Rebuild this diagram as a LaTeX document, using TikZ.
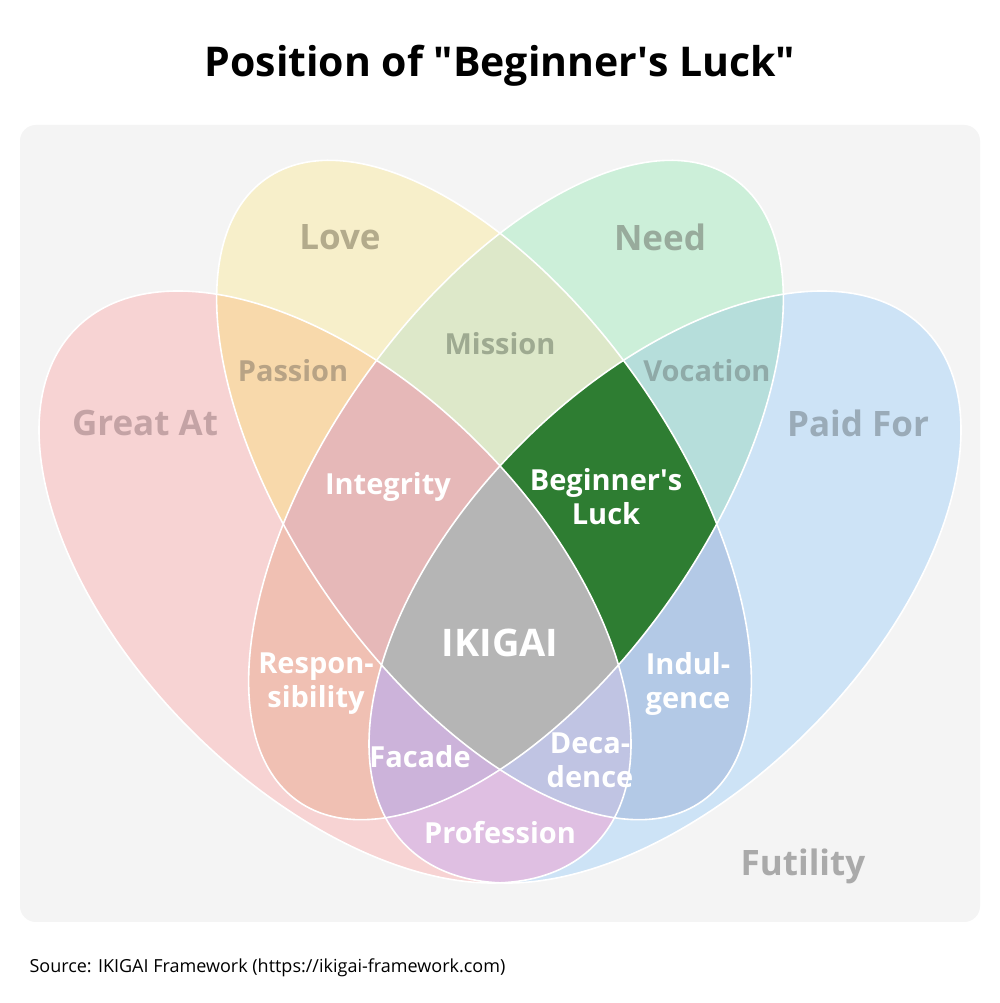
\documentclass[tikz,border=0pt]{standalone}
\usepackage{fontspec}
\setmainfont{Open Sans}[Ligatures=ResetAll]
\begin{document}
\begin{tikzpicture}[x=1pt,y=1pt,
  lab/.style={font=\bfseries\fontsize{29}{34}\selectfont,align=center,text=white},
  big/.style={font=\bfseries\fontsize{35}{40}\selectfont},
  mid/.style={font=\bfseries\fontsize{29}{32}\selectfont}]
\newcommand\clipG{\clip[rotate around={-45:(335,416)}] (335,416) ellipse [x radius=366pt, y radius=203pt];}
\newcommand\clipP{\clip[rotate around={45:(665,416)}] (665,416) ellipse [x radius=366pt, y radius=203pt];}
\newcommand\clipL{\clip[rotate around={-55:(484,513)}] (484,513) ellipse [x radius=380pt, y radius=189pt];}
\newcommand\clipN{\clip[rotate around={55:(516,513)}] (516,513) ellipse [x radius=380pt, y radius=189pt];}
\newcommand\fillrg[1]{\fill[#1] (0,0) rectangle (1000,1003);}
\newcommand\sq{\XeTeXglyph\numexpr\XeTeXcharglyph"27\relax}
\newcommand\dq{\XeTeXglyph\numexpr\XeTeXcharglyph"22\relax}
\definecolor{bgp}{HTML}{F4F4F4}
\definecolor{cG}{HTML}{F7D3D3}\definecolor{cL}{HTML}{F7EFCA}
\definecolor{cN}{HTML}{CCEFD9}\definecolor{cP}{HTML}{CDE3F6}
\definecolor{cPas}{HTML}{F8D9AB}\definecolor{cMis}{HTML}{DDE8C9}
\definecolor{cVoc}{HTML}{B6DEDB}\definecolor{cInt}{HTML}{E6B8B8}
\definecolor{cBeg}{HTML}{2E7D32}\definecolor{cIki}{HTML}{B5B5B5}
\definecolor{cRes}{HTML}{F0C0B3}\definecolor{cInd}{HTML}{B3C9E6}
\definecolor{cFac}{HTML}{CCB3DA}\definecolor{cDec}{HTML}{C0C4E3}
\definecolor{cPro}{HTML}{DFBFE2}
\useasboundingbox (0,0) rectangle (1000,1003);
\fill[white] (0,0) rectangle (1000,1003);
\fill[bgp,rounded corners=16pt] (20,81) rectangle (980,878);
% singles
\begin{scope}\clipG\fillrg{cG}\end{scope}
\begin{scope}\clipP\fillrg{cP}\end{scope}
\begin{scope}\clipL\fillrg{cL}\end{scope}
\begin{scope}\clipN\fillrg{cN}\end{scope}
% pairs
\begin{scope}\clipG\clipL\fillrg{cPas}\end{scope}
\begin{scope}\clipL\clipN\fillrg{cMis}\end{scope}
\begin{scope}\clipN\clipP\fillrg{cVoc}\end{scope}
\begin{scope}\clipG\clipN\fillrg{cRes}\end{scope}
\begin{scope}\clipL\clipP\fillrg{cInd}\end{scope}
\begin{scope}\clipG\clipP\fillrg{cPro}\end{scope}
% triples
\begin{scope}\clipG\clipL\clipN\fillrg{cInt}\end{scope}
\begin{scope}\clipL\clipN\clipP\fillrg{cBeg}\end{scope}
\begin{scope}\clipG\clipN\clipP\fillrg{cFac}\end{scope}
\begin{scope}\clipG\clipL\clipP\fillrg{cDec}\end{scope}
% quad
\begin{scope}\clipG\clipL\clipN\clipP\fillrg{cIki}\end{scope}
% outlines
\begin{scope}[white,line width=1.6pt]
\draw[rotate around={-45:(335,416)}] (335,416) ellipse [x radius=366pt, y radius=203pt];
\draw[rotate around={45:(665,416)}] (665,416) ellipse [x radius=366pt, y radius=203pt];
\draw[rotate around={-55:(484,513)}] (484,513) ellipse [x radius=380pt, y radius=189pt];
\draw[rotate around={55:(516,513)}] (516,513) ellipse [x radius=380pt, y radius=189pt];
\end{scope}
% labels
\node[font=\bfseries\fontsize{41}{44}\selectfont] (title) at (500,937) {Position of \dq Beginner\sq s Luck\dq};
\node[big,text={rgb,255:red,179;green,171;blue,140}] (love) at (340,766) {Love};
\node[big,text={rgb,255:red,152;green,171;blue,156}] (need) at (660,766) {Need};
\node[big,text={rgb,255:red,196;green,163;blue,165}] (great) at (145,580) {Great At};
\node[big,text={rgb,255:red,154;green,171;blue,184}] (paid) at (858,580) {Paid For};
\node[mid,text={rgb,255:red,184;green,163;blue,133}] (pas) at (293,632) {Passion};
\node[mid,text={rgb,255:red,158;green,170;blue,145}] (mis) at (500,659) {Mission};
\node[mid,text={rgb,255:red,143;green,170;blue,168}] (voc) at (707,632) {Vocation};
\node[lab] (int) at (388,516) {Integrity};
\node[lab] (beg) at (606,506) {Beginner\sq s\\Luck};
\node[lab,font=\bfseries\fontsize{38}{42}\selectfont] (iki) at (500,360) {IKIGAI};
\node[lab] (res) at (316,319) {Respon-\\sibility};
\node[lab] (ind) at (688,319) {Indul-\\gence};
\node[lab] (fac) at (420,246) {Facade};
\node[lab] (dec) at (590,243) {Deca-\\dence};
\node[lab] (pro) at (500,170) {Profession};
\node[big,text={rgb,255:red,170;green,170;blue,170}] (fut) at (803,137) {Futility};
\node[anchor=west,font=\fontsize{18}{20}\selectfont] (src) at (26,35) {Source: IKIGAI Framework (https://ikigai-framework.com)};
\end{tikzpicture}
\end{document}
